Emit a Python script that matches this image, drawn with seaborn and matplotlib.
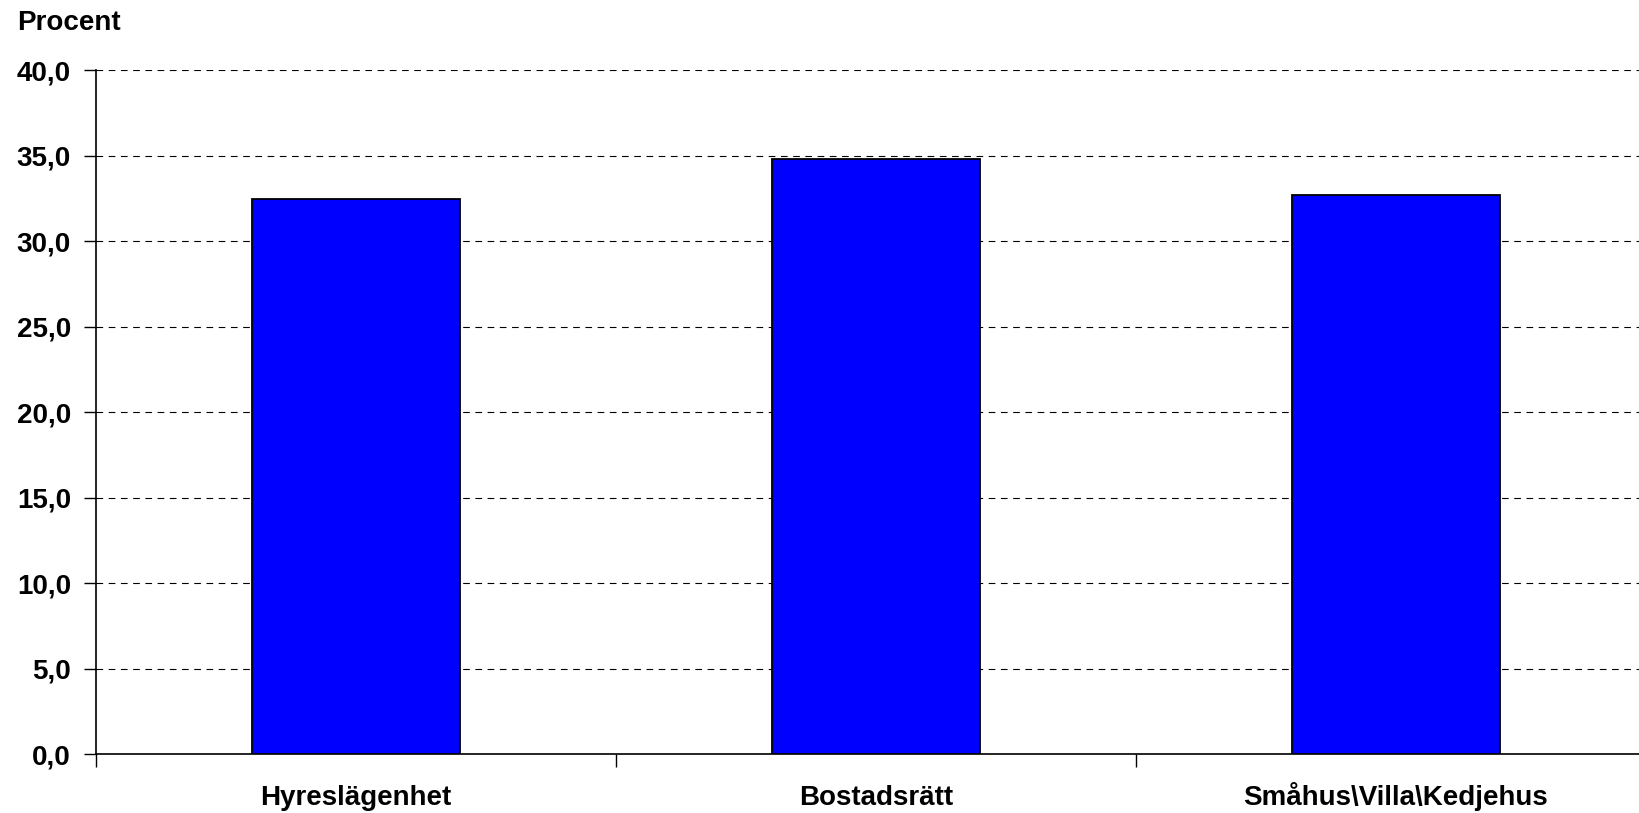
import matplotlib
matplotlib.use("Agg")
import matplotlib.pyplot as plt
import seaborn as sns
import pandas as pd
from matplotlib.ticker import FixedLocator

# Share of households (percent) by type of dwelling
categories = ["Hyreslägenhet", "Bostadsrätt", "Småhus\\Villa\\Kedjehus"]
values = [32.5, 34.8, 32.7]
y_ticks = [0, 5, 10, 15, 20, 25, 30, 35, 40]

sns.set_theme(style="white")
plt.rcParams["font.family"] = ["Liberation Sans", "DejaVu Sans"]
plt.rcParams["font.weight"] = "bold"
plt.rcParams["text.color"] = "black"
plt.rcParams["xtick.color"] = "black"
plt.rcParams["ytick.color"] = "black"

FS = 20

df = pd.DataFrame({"Boende": categories, "Procent": values})

fig = plt.figure(figsize=(16.4, 8.13), dpi=100)
ax = fig.add_axes([96 / 1640, 1 - 754 / 813, 1560 / 1640, (754 - 70.5) / 813])

sns.barplot(data=df, x="Boende", y="Procent", color="#0000FF", saturation=1,
            width=0.4, edgecolor="black", linewidth=1.3, ax=ax, zorder=3)

ax.set_xlim(-0.5, 2.5)
ax.set_ylim(0, 40)
ax.set_yticks(y_ticks)
ax.set_yticklabels([f"{v:.1f}".replace(".", ",") for v in y_ticks],
                   fontsize=FS, fontweight="bold", color="black")
ax.yaxis.grid(True, color="black", linewidth=0.8, linestyle=(0, (6, 5)))
ax.set_axisbelow(True)

ax.set_xlabel("")
ax.set_ylabel("")
ax.tick_params(axis="y", direction="out", length=9, width=1, color="black",
               labelcolor="black", left=True, pad=9)
ax.set_xticks(range(len(categories)))
ax.set_xticklabels(categories, fontsize=FS, fontweight="bold", color="black",
                   va="baseline")
ax.tick_params(axis="x", which="major", length=0, pad=37, labelcolor="black")
ax.xaxis.set_minor_locator(FixedLocator([-0.5, 0.5, 1.5]))
ax.tick_params(axis="x", which="minor", direction="out", length=9, width=1,
               color="black", bottom=True)

for side in ["top", "right"]:
    ax.spines[side].set_visible(False)
for side in ["left", "bottom"]:
    ax.spines[side].set_color("black")
    ax.spines[side].set_linewidth(1.2)

fig.text(17 / 1640, 1 - 30 / 813, "Procent", fontsize=FS, fontweight="bold",
         color="black", ha="left", va="baseline")

fig.savefig("out.png", dpi=100, facecolor="white")
